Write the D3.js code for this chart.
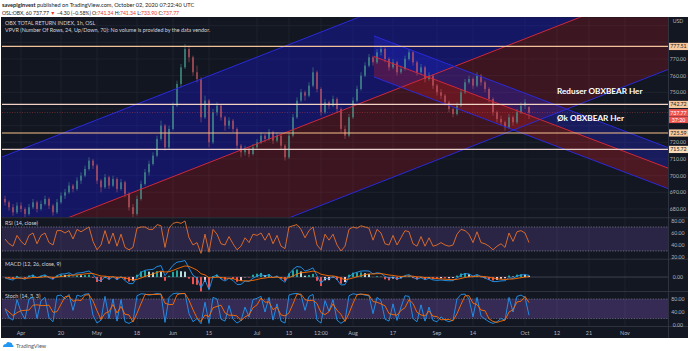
<!DOCTYPE html>
<html>
<head>
<meta charset="utf-8">
<script src="https://cdn.jsdelivr.net/npm/d3@7"></script>
<style>
  body { margin: 0; background: #fff; }
  svg text { font-family: Lato, "Open Sans", sans-serif; }
</style>
</head>
<body>
<svg id="chart" width="690" height="351"></svg>
<script>
// ---- data (day index 0 = Apr 1 2020, trading days only) ----
const firstDay = -4;

// daily candles [open, high, low, close]
const candles = [
  [686,688,682,684],[684,685,679,681],[681,683,676,678],[678,684,677,682],[682,684,678,680],
  [680,681,675,677],[677,683,676,681],[681,686,680,684],[684,685,678,680],[680,685,679,683],
  [683,688,682,686],[686,687,680,682],[682,683,676,678],[678,686,677,684],[684,690,683,688],
  [688,692,686,690],[690,696,689,694],[694,695,690,692],[692,699,691,697],[697,702,695,700],
  [700,706,699,704],[704,711,703,709],[709,710,704,706],[706,707,695,697],[697,698,690,693],
  [693,701,692,699],[699,700,692,694],[694,700,693,698],[698,699,690,692],[692,698,691,696],
  [696,697,687,689],[689,690,679,681],[681,683,675,677],[677,688,676,686],[686,697,685,695],
  [695,704,694,702],[702,709,700,707],[707,714,706,712],[712,724,711,722],[722,733,721,730],
  [730,731,715,717],[717,730,716,728],[728,744,727,742],[742,757,741,755],[755,767,753,765],
  [765,779,764,776],[776,778,768,771],[771,772,760,762],[762,766,756,758],[758,759,732,735],
  [735,748,734,745],[745,746,717,720],[720,740,719,738],[738,744,736,742],[742,743,733,735],
  [735,736,727,730],[730,735,728,733],[733,734,726,728],[728,729,716,718],[718,719,711,714],
  [714,718,712,716],[716,717,711,713],[713,719,712,717],[717,722,716,720],[720,726,719,724],
  [724,725,720,722],[722,728,721,726],[726,727,719,721],[721,726,720,724],[724,725,716,718],
  [718,719,709,711],[711,726,710,724],[724,737,723,735],[735,747,734,745],[745,752,744,750],
  [750,751,745,748],[748,756,747,754],[754,765,753,762],[762,763,750,752],[752,753,736,738],
  [738,746,737,744],[744,745,740,742],[742,748,741,746],[746,747,738,740],[740,741,726,728],
  [728,730,722,724],[724,737,723,735],[735,747,734,745],[745,754,744,752],[752,762,751,760],
  [760,768,759,766],[766,773,765,771],[771,772,766,768],[768,776,767,774],[774,778,772,776],
  [776,777,768,770],[770,771,763,765],[765,770,764,768],[768,769,760,762],[762,766,761,764],
  [764,772,763,770],[770,776,769,774],[774,775,766,768],[768,769,760,762],[762,767,761,765],
  [765,766,756,758],[758,762,757,760],[760,761,752,754],[754,755,748,750],[750,752,746,748],
  [748,749,742,744],[744,745,738,740],[740,741,735,737],[737,744,736,742],[742,752,741,750],
  [750,758,749,756],[756,760,755,758],[758,759,752,754],[754,762,753,760],[760,761,754,756],
  [756,757,750,752],[752,753,744,746],[746,747,736,738],[738,739,732,734],[734,736,730,732],
  [732,733,727,729],[729,737,728,735],[735,736,730,732],[732,740,731,738],[738,744,737,742],
  [742,746,740,744],[741.34,741.34,733.9,737.77]
];

const rsi = [
  50,42,38,56,46,40,56,60,42,56, 60,44,40,64,64,60,64,50,66,62,
  66,70,46,32,40,64,42,60,38,58, 36,32,36,68,70,70,66,66,74,72,
  36,68,76,78,76,80,52,40,44,26, 58,28,66,58,42,40,54,42,32,38,
  52,44,58,56,60,48,60,42,56,38, 34,70,72,74,66,52,64,70,40,32,
  58,48,58,40,30,38,66,70,68,72, 70,68,48,66,60,42,40,56,40,52,
  64,62,42,38,54,38,52,38,40,44, 40,38,40,58,66,64,58,44,62,44,
  42,38,32,38,42,36,60,46,62,64, 60,44
];

const macd = [
  -0.5,-1.25,-1.78,-0.04,-0.63,-1.34,0.26,1.08,-0.44,0.59, 1.31,-0.28,-1.4,0.82,1.77,1.84,2.49,1.14,2.3,2.51,
  2.96,3.57,1.6,-1.58,-2.31,0.18,-1.37,0.24,-1.63,0.06, -2.06,-3.84,-3.89,-0.02,2.69,3.98,4.29,4.5,6.15,6.7,
  0.79,3.85,6.9,8.73,9.11,9.68,5.28,1.0,-0.5,-6.5, -1.55,-7.5,0.15,1.3,-1.19,-2.33,-0.73,-2.01,-4.41,-4.29,
  -2.4,-2.58,-0.61,0.47,1.53,0.47,1.53,-0.43,0.6,-1.38, -3.07,1.75,4.53,6.17,5.82,3.47,4.23,5.36,0.75,-3.67,
  -0.77,-1.14,0.4,-1.52,-4.66,-4.46,0.18,2.03,2.79,3.51, 3.63,3.52,1.88,2.48,2.13,0.32,-0.75,0.06,-1.13,-0.4,
  0.89,1.4,-0.19,-1.3,-0.33,-1.59,-0.73,-1.68,-1.96,-1.76, -2.02,-2.19,-2.12,-0.51,1.2,2.02,1.8,0.48,1.51,0.27,
  -0.59,-1.59,-2.67,-2.65,-2.25,-2.16,-0.34,-0.82,0.6,1.2, 1.4,1.0
];

const signal = [
  -0.4,-0.57,-0.82,-0.67,-0.67,-0.81,-0.6,-0.26,-0.3,-0.12, 0.16,0.07,-0.22,-0.02,0.33,0.63,1.0,1.03,1.28,1.52,
  1.81,2.16,2.05,1.32,0.6,0.52,0.15,0.17,-0.19,-0.14, -0.52,-1.19,-1.73,-1.38,-0.56,0.35,1.14,1.81,2.68,3.48,
  2.94,3.12,3.88,4.85,5.7,6.5,6.26,5.2,4.06,1.95, 1.25,-0.5,-0.37,-0.04,-0.27,-0.69,-0.7,-0.96,-1.65,-2.18,
  -2.22,-2.3,-1.96,-1.48,-0.87,-0.61,-0.18,-0.23,-0.06,-0.33, -0.87,-0.35,0.63,1.73,2.54,2.72,3.03,3.49,2.94,1.62,
  1.15,0.69,0.63,0.2,-0.77,-1.51,-1.17,-0.53,0.14,0.81, 1.38,1.8,1.82,1.96,2.0,1.66,1.18,0.95,0.53,0.34,
  0.45,0.64,0.47,0.12,0.03,-0.3,-0.39,-0.65,-0.91,-1.08, -1.26,-1.45,-1.58,-1.36,-0.85,-0.28,0.14,0.21,0.47,0.43,
  0.22,-0.14,-0.64,-1.04,-1.28,-1.45,-1.23,-1.14,-0.79,-0.39, 0.0,0.2
];

const stochK = [
  50,22,15,78,40,18,80,85,20,75, 85,22,10,90,92,80,94,45,92,88,
  95,96,30,6,15,88,20,80,12,78, 10,5,12,90,96,95,92,94,97,95,
  8,85,96,98,96,97,35,10,20,4, 70,5,85,80,18,12,60,18,6,14,
  55,25,78,82,88,40,85,15,65,12, 6,92,96,97,92,45,88,94,15,6,
  75,42,78,15,5,14,90,96,94,95, 92,90,35,85,75,18,12,65,14,55,
  90,88,20,10,62,12,55,14,10,25, 15,10,15,80,94,95,80,25,85,28,
  18,10,5,10,20,15,85,40,88,92, 85,30
];

const stochD = [
  50,40,29,38,44,45,46,61,62,60, 60,61,39,41,64,87,89,73,77,75,
  92,93,74,44,17,36,41,63,37,57, 33,31,9,36,66,94,94,94,94,95,
  67,63,63,93,97,97,76,47,22,11, 31,26,53,57,61,37,30,30,28,13,
  25,31,53,62,83,70,71,47,55,31, 28,37,65,95,95,78,75,76,66,38,
  32,41,65,45,33,11,36,67,93,95, 94,92,72,70,65,59,35,32,30,45,
  53,78,66,39,31,28,43,27,26,16, 17,17,13,35,63,90,90,67,63,46,
  44,19,11,8,12,15,40,47,71,73, 88,69
];

// time axis
const tickDays   = [0, 10, 19, 29, 38, 47, 59, 67, 75, 83, 93, 104, 113, 126, 134, 142, 151];
const tickLabels = ["Apr","20","May","18","Jun","15","Jul","13","12:00","Aug","17","Sep","14","Oct","12","21","Nov"];

// price axis
const priceTicks = [680, 690, 700, 710, 720, 730, 740, 750, 760, 770, 780, 790];
const priceLabels = [680, 690, 700, 710, 720, 750, 760, 770];

// horizontal levels
const levels = [777.51, 742.72, 725.59, 715.72];
const levelColors = ["#f2c29b", "#f3d3c6", "#f6c18a", "#ead0cc"];
const levelBg = ["#f7c99c", "#f7c99c", "#f7c99c", "#fbdcb8"];

// channels drawn on chart: [day, price] of top line ends, widths in price
const bigTop = [[-4.75, 711.2], [161.75, 867.7]];
const bigWidth = 104;
const descTop = [[88.25, 783.8], [162, 716.6]];
const descWidth = 24.6;

const lastPrice = 737.77;
const notes = [
  { text: "Reduser OBXBEAR Her", day: 134, price: 750.5 },
  { text: "Øk OBXBEAR Her", day: 134, price: 734.8 }
];

// ---- layout ----
const svg = d3.select("#chart");
const left = 2, right = 668, axisRight = 688;
const mainTop = 17.3, mainBot = 217.3;

const x = d3.scaleLinear().domain([-4.75, 161.75]).range([left, right]);
const y = d3.scaleLinear().domain([675, 795]).range([mainBot, mainTop]);
const yR = d3.scaleLinear().domain([18.3, 85]).range([258, 218]);
const yM = d3.scaleLinear().domain([-8.2, 10]).range([291, 260]);
const yS = d3.scaleLinear().domain([0, 104.6]).range([325, 291]);

const dayX = i => x(firstDay + i);

// header
const head = svg.append("g").attr("font-size", "5.6px").attr("fill", "#222");
head.append("text").attr("x", 2).attr("y", 7)
  .html('<tspan font-weight="bold">savepiginvest</tspan> published on TradingView.com, October 02, 2020 07:22:40 UTC');
const l2 = head.append("text").attr("x", 2).attr("y", 14.5).attr("font-size", "5.1px");
[["OSL:OBX, 60 737.77 ", "#222"], ["▼", "#e53935"], [" −4.30 (−0.58%) O:", "#222"], ["741.34", "#e53935"],
 [" H:", "#222"], ["741.34", "#e53935"], [" L:", "#222"], ["733.90", "#e53935"], [" C:", "#222"], ["737.77", "#e53935"]]
  .forEach(d => l2.append("tspan").attr("fill", d[1]).text(d[0]));

// frame
svg.append("rect").attr("x", 1).attr("y", 17).attr("width", axisRight - 1).attr("height", 321).attr("fill", "#131722");

svg.append("defs").append("clipPath").attr("id", "clipMain")
  .append("rect").attr("x", left).attr("y", mainTop).attr("width", right - left).attr("height", mainBot - mainTop);

// grid
const grid = svg.append("g").attr("stroke", "#252a36").attr("stroke-width", 0.6);
grid.selectAll("line.v").data(tickDays).enter().append("line")
  .attr("x1", d => x(d)).attr("x2", d => x(d)).attr("y1", mainTop).attr("y2", 326);
grid.selectAll("line.h").data(priceTicks).enter().append("line")
  .attr("x1", left).attr("x2", right).attr("y1", d => y(d)).attr("y2", d => y(d));

// main pane
const main = svg.append("g").attr("clip-path", "url(#clipMain)");

// channel geometry
function lineAt(pts, off, d) {
  const [a, b] = pts;
  return a[1] + (b[1] - a[1]) * (d - a[0]) / (b[0] - a[0]) + off;
}
function band(pts, off1, off2) {
  const d0 = pts[0][0], d1 = pts[1][0];
  return [[x(d0), y(lineAt(pts, off1, d0))], [x(d1), y(lineAt(pts, off1, d1))],
          [x(d1), y(lineAt(pts, off2, d1))], [x(d0), y(lineAt(pts, off2, d0))]];
}
const poly = d3.line();

main.append("path").attr("d", poly(band(bigTop, 0, -bigWidth / 2)) + "Z").attr("fill", "rgba(22,24,200,0.4)");
main.append("path").attr("d", poly(band(bigTop, -bigWidth / 2, -bigWidth)) + "Z").attr("fill", "rgba(200,20,30,0.23)");
main.append("path").attr("d", poly(band(descTop, 0, -descWidth / 2)) + "Z").attr("fill", "rgba(40,40,230,0.3)");
main.append("path").attr("d", poly(band(descTop, -descWidth / 2, -descWidth)) + "Z").attr("fill", "rgba(210,30,40,0.3)");

// candles
const up = "#4a9a90", down = "#c45a66";
const cg = main.append("g").attr("opacity", 0.9);
cg.selectAll("line").data(candles).enter().append("line")
  .attr("x1", (d, i) => dayX(i)).attr("x2", (d, i) => dayX(i))
  .attr("y1", d => y(d[1])).attr("y2", d => y(d[2]))
  .attr("stroke", d => d[3] >= d[0] ? up : down).attr("stroke-width", 0.6);
cg.selectAll("rect").data(candles).enter().append("rect")
  .attr("x", (d, i) => dayX(i) - 0.7).attr("width", 1.4)
  .attr("y", d => y(Math.max(d[0], d[3])))
  .attr("height", d => Math.max(0.6, Math.abs(y(d[0]) - y(d[3]))))
  .attr("fill", d => d[3] >= d[0] ? up : down);

// channel lines
const chLines = [[bigTop, 0, "#2a2ad8"], [bigTop, -bigWidth / 2, "#d0283a"], [bigTop, -bigWidth, "#2a2ad8"],
                 [descTop, 0, "#2a2ad8"], [descTop, -descWidth / 2, "#d0283a"], [descTop, -descWidth, "#2a2ad8"]];
chLines.forEach(([pts, off, col]) => {
  main.append("line")
    .attr("x1", x(pts[0][0])).attr("y1", y(lineAt(pts, off, pts[0][0])))
    .attr("x2", x(pts[1][0])).attr("y2", y(lineAt(pts, off, pts[1][0])))
    .attr("stroke", col).attr("stroke-width", 1);
});

// horizontal levels
main.selectAll("line.lvl").data(levels).enter().append("line")
  .attr("x1", left).attr("x2", right).attr("y1", d => y(d)).attr("y2", d => y(d))
  .attr("stroke", (d, i) => levelColors[i]).attr("stroke-width", 1.2);

// last price line
main.append("line").attr("x1", left).attr("x2", right).attr("y1", y(lastPrice)).attr("y2", y(lastPrice))
  .attr("stroke", "#ef5350").attr("stroke-width", 0.6).attr("stroke-dasharray", "1,1.5").attr("opacity", 0.7);

// notes
main.selectAll("text.note").data(notes).enter().append("text")
  .attr("x", d => x(d.day)).attr("y", d => y(d.price) + 3)
  .attr("fill", "#fff").attr("font-size", "8.2px").attr("font-weight", "bold").text(d => d.text);

// pane titles
const titles = svg.append("g").attr("fill", "#d1d4dc").attr("font-size", "5.4px");
titles.append("text").attr("x", 5).attr("y", 25).text("OBX TOTAL RETURN INDEX, 1h, OSL");
titles.append("text").attr("x", 5).attr("y", 32).text("VPVR (Number Of Rows, 24, Up/Down, 70): No volume is provided by the data vendor.");

// separators
const sep = svg.append("g").attr("stroke", "#363a45").attr("stroke-width", 0.8);
[217.8, 259.2, 291.5, 326.5].forEach(v => sep.append("line").attr("x1", left).attr("x2", axisRight).attr("y1", v).attr("y2", v));
sep.append("line").attr("x1", right + 0.5).attr("x2", right + 0.5).attr("y1", 17).attr("y2", 338);

// RSI pane
svg.append("rect").attr("x", left).attr("width", right - left).attr("y", yR(70)).attr("height", yR(30) - yR(70))
  .attr("fill", "rgba(126,87,194,0.22)");
[70, 30].forEach(v => svg.append("line").attr("x1", left).attr("x2", right).attr("y1", yR(v)).attr("y2", yR(v))
  .attr("stroke", "#8a8d99").attr("stroke-width", 0.7).attr("stroke-dasharray", "1.2,1.5"));
svg.append("path").datum(rsi)
  .attr("d", d3.line().x((d, i) => dayX(i)).y(d => yR(d)))
  .attr("fill", "none").attr("stroke", "#e8702a").attr("stroke-width", 0.9);
titles.append("text").attr("x", 5).attr("y", 225).text("RSI (14, close)");

// MACD pane
svg.append("line").attr("x1", left).attr("x2", right).attr("y1", yM(0)).attr("y2", yM(0))
  .attr("stroke", "#6b6f7a").attr("stroke-width", 0.5);
const hist = macd.map((m, i) => m - signal[i]);
svg.append("g").selectAll("rect").data(hist).enter().append("rect")
  .attr("x", (d, i) => dayX(i) - 1).attr("width", 2)
  .attr("y", d => Math.min(yM(0), yM(d))).attr("height", d => Math.abs(yM(d) - yM(0)))
  .attr("fill", (d, i) => d >= 0 ? (i > 0 && d < hist[i - 1] ? "#b2dfdb" : "#26a69a")
                                 : (i > 0 && d > hist[i - 1] ? "#ffcdd2" : "#ef5350"));
svg.append("path").datum(macd)
  .attr("d", d3.line().x((d, i) => dayX(i)).y(d => yM(d)))
  .attr("fill", "none").attr("stroke", "#2196f3").attr("stroke-width", 0.9);
svg.append("path").datum(signal)
  .attr("d", d3.line().x((d, i) => dayX(i)).y(d => yM(d)))
  .attr("fill", "none").attr("stroke", "#ff6d00").attr("stroke-width", 0.9);
titles.append("text").attr("x", 5).attr("y", 266).text("MACD (12, 26, close, 9)");

// Stoch pane
svg.append("rect").attr("x", left).attr("width", right - left).attr("y", yS(80)).attr("height", yS(20) - yS(80))
  .attr("fill", "rgba(126,87,194,0.32)");
[80, 20].forEach(v => svg.append("line").attr("x1", left).attr("x2", right).attr("y1", yS(v)).attr("y2", yS(v))
  .attr("stroke", "#8a8d99").attr("stroke-width", 0.6).attr("stroke-dasharray", "1.2,1.5"));
svg.append("path").datum(stochK)
  .attr("d", d3.line().x((d, i) => dayX(i)).y(d => yS(d)))
  .attr("fill", "none").attr("stroke", "#2196f3").attr("stroke-width", 0.9);
svg.append("path").datum(stochD)
  .attr("d", d3.line().x((d, i) => dayX(i)).y(d => yS(d)))
  .attr("fill", "none").attr("stroke", "#ff6d00").attr("stroke-width", 0.9);
titles.append("text").attr("x", 5).attr("y", 298).text("Stoch (14, 3, 3)");

// price axis labels
const ax = svg.append("g").attr("font-size", "5.2px").attr("fill", "#b2b5be").attr("text-anchor", "middle");
ax.append("text").attr("x", 678).attr("y", 23).text("USD");
ax.selectAll("text.p").data(priceLabels).enter().append("text")
  .attr("x", 678).attr("y", d => y(d) + 2).text(d => d.toFixed(2));
[80, 60, 40, 20].forEach(v =>
  ax.append("text").attr("x", 678).attr("y", yR(v) + 2).text(v.toFixed(2)));
ax.append("text").attr("x", 678).attr("y", yM(0) + 2).text("0.00");
[80, 40, 0].forEach(v => ax.append("text").attr("x", 678).attr("y", yS(v) + 2).text(v.toFixed(2)));

// level tags
levels.forEach((v, i) => {
  ax.append("rect").attr("x", 669).attr("y", y(v) - 3.6).attr("width", 19).attr("height", 7.2).attr("fill", levelBg[i]);
  ax.append("text").attr("x", 678.5).attr("y", y(v) + 2).attr("fill", "#131722").text(v.toFixed(2));
});
ax.append("rect").attr("x", 669).attr("y", y(lastPrice) - 3.6).attr("width", 19).attr("height", 7.2).attr("fill", "#ef5350");
ax.append("text").attr("x", 678.5).attr("y", y(lastPrice) + 2).attr("fill", "#fff").text(lastPrice.toFixed(2));
ax.append("rect").attr("x", 669).attr("y", y(lastPrice) + 3.8).attr("width", 19).attr("height", 6.6).attr("fill", "#ef5350");
ax.append("text").attr("x", 678.5).attr("y", y(lastPrice) + 9).attr("fill", "#fff").text("37:20");

// time axis labels
svg.append("g").attr("font-size", "5.4px").attr("fill", "#b2b5be").attr("text-anchor", "middle")
  .selectAll("text").data(tickDays).enter().append("text")
  .attr("x", d => x(d)).attr("y", 334.5).text((d, i) => tickLabels[i]);

// footer logo
const logo = svg.append("g").attr("transform", "translate(3,341)");
logo.append("path").attr("d", "M0,6 Q0,3 3,3 Q4,0 7,1.5 Q9,1 9.5,4 Q11,4.5 10.5,6 Z").attr("fill", "#2196f3");
svg.append("text").attr("x", 16).attr("y", 347.5).attr("font-size", "5.6px").attr("fill", "#555").text("TradingView");
</script>
</body>
</html>
